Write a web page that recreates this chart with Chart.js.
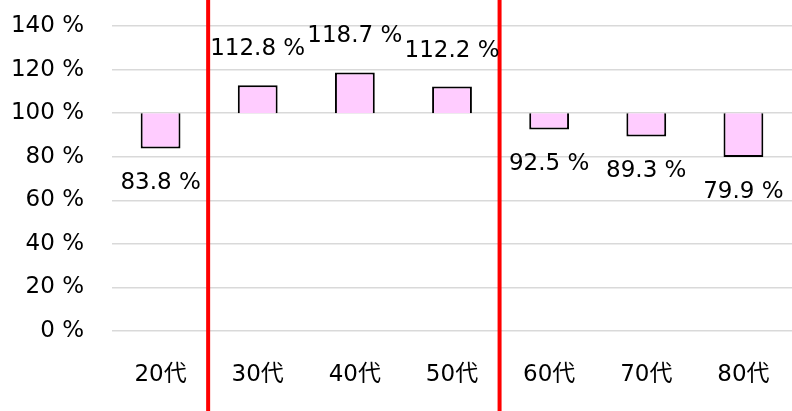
<!DOCTYPE html>
<html>
<head>
<meta charset="utf-8">
<script src="https://cdn.jsdelivr.net/npm/chart.js@4/dist/chart.umd.min.js"></script>
<style>
  html, body { margin: 0; padding: 0; background: #fff; overflow: hidden; }
  #wrap { width: 792px; height: 411px; }
</style>
</head>
<body>
<div id="wrap"><canvas id="barChart"></canvas></div>
<script>
const categories = ['20代', '30代', '40代', '50代', '60代', '70代', '80代'];
const baseline = 100;
const ratios = [83.8, 112.8, 118.7, 112.2, 92.5, 89.3, 79.9];
const dividerAfter = [0, 3]; // red lines after these categories

Chart.defaults.font.family = "'DejaVu Sans', Verdana, 'Noto Sans CJK JP', sans-serif";
Chart.defaults.font.size = 23;
Chart.defaults.color = '#000';

// red separators between age groups
const dividers = {
  id: 'dividers',
  afterDatasetsDraw(chart) {
    const c = chart.ctx, x = chart.scales.x;
    c.save();
    c.strokeStyle = '#ff0000';
    c.lineWidth = 4;
    dividerAfter.forEach(i => {
      const px = (x.getPixelForValue(i) + x.getPixelForValue(i + 1)) / 2 - 1;
      c.beginPath();
      c.moveTo(px, 0);
      c.lineTo(px, chart.height);
      c.stroke();
    });
    c.restore();
  }
};

// value labels above / below the bar end
const valueLabels = {
  id: 'valueLabels',
  afterDraw(chart) {
    const c = chart.ctx, y = chart.scales.y;
    const meta = chart.getDatasetMeta(0);
    c.save();
    c.font = "23px 'DejaVu Sans', Verdana, sans-serif";
    c.fillStyle = '#000';
    c.textAlign = 'center';
    c.textBaseline = 'middle';
    meta.data.forEach((bar, i) => {
      const v = ratios[i];
      const end = y.getPixelForValue(v);
      const py = v >= baseline ? end - 36 : end + 35;
      c.fillText(v.toFixed(1) + ' %', bar.x, py);
    });
    c.restore();
  }
};

const ctx = document.getElementById('barChart').getContext('2d');

var myChart = new Chart(ctx, {
  type: 'bar',
  data: {
    labels: categories,
    datasets: [{
      data: ratios.map(v => [baseline, v]),
      backgroundColor: '#ffccff',
      borderColor: '#000',
      borderWidth: 2,
      borderSkipped: c => (c.raw && c.raw[1] >= c.raw[0]) ? 'bottom' : 'top',
      categoryPercentage: 1,
      barPercentage: 0.41
    }]
  },
  options: {
    responsive: true,
    maintainAspectRatio: false,
    animation: false,
    layout: { padding: { top: 26, left: 10, right: 0, bottom: 0 } },
    plugins: {
      legend: { display: false },
      tooltip: { enabled: false }
    },
    scales: {
      x: {
        grid: { display: false },
        border: { display: false },
        ticks: { padding: 22 },
        afterFit: s => { s.height = 80; }
      },
      y: {
        min: 0,
        max: 140,
        ticks: {
          stepSize: 20,
          padding: 0,
          callback: v => v + ' %'
        },
        grid: {
          color: '#d9d9d9',
          lineWidth: 1.5,
          drawTicks: true,
          tickLength: 28,
          tickColor: 'rgba(0,0,0,0)'
        },
        border: { display: false },
        afterFit: s => { s.width = 102; }
      }
    }
  },
  plugins: [dividers, valueLabels]
});
</script>
</body>
</html>
